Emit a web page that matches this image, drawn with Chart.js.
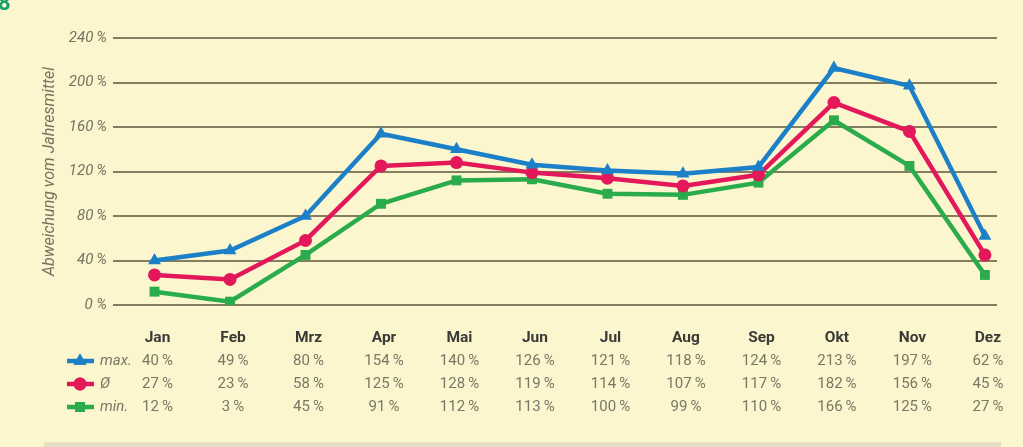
<!DOCTYPE html>
<html>
<head>
<meta charset="utf-8">
<script src="https://cdn.jsdelivr.net/npm/chart.js@4/dist/chart.umd.min.js"></script>
<style>
  html, body { margin: 0; padding: 0; background: #fcf6cf; }
  #wrap { width: 1023px; height: 447px; position: relative; }
</style>
</head>
<body>
<div id="wrap"><canvas id="chart" width="1023" height="447"></canvas></div>
<script>
const months = ["Jan", "Feb", "Mrz", "Apr", "Mai", "Jun", "Jul", "Aug", "Sep", "Okt", "Nov", "Dez"];
const maxValues = [40, 49, 80, 154, 140, 126, 121, 118, 124, 213, 197, 62];
const avgValues = [27, 23, 58, 125, 128, 119, 114, 107, 117, 182, 156, 45];
const minValues = [12, 3, 45, 91, 112, 113, 100, 99, 110, 166, 125, 27];
const yTicks = [0, 40, 80, 120, 160, 200, 240];

const BLUE = "#1b80c8";
const RED = "#e3185a";
const GREEN = "#2aab4c";
const GRID = "#857d60";
const FONT = "Roboto, 'Liberation Sans', sans-serif";

const toPoints = (values) => values.map((y, x) => ({ x, y }));

const series = [
  { label: "max.", values: maxValues, color: BLUE, style: "triangle", radius: 7.5 },
  { label: "Ø", values: avgValues, color: RED, style: "circle", radius: 6.5 },
  { label: "min.", values: minValues, color: GREEN, style: "rect", radius: 7 },
];

const pct = (v) => (v === 0 ? "0 %" : `${v}\u2009%`);

// month labels + value table + legend keys below the plot
const tablePlugin = {
  id: "table",
  afterDraw(chart) {
    const { ctx } = chart;
    const xScale = chart.scales.x;
    ctx.save();
    ctx.textAlign = "center";
    ctx.textBaseline = "middle";

    ctx.font = `bold 15.5px ${FONT}`;
    ctx.fillStyle = "#3a3a36";
    months.forEach((m, i) => {
      ctx.fillText(m, xScale.getPixelForValue(i) + 3, 338);
    });

    const rowsY = [361, 384, 407];
    ctx.font = `15px ${FONT}`;
    ctx.fillStyle = "#7a7764";
    series.forEach((s, r) => {
      s.values.forEach((v, i) => {
        ctx.fillText(pct(v), xScale.getPixelForValue(i) + 3, rowsY[r]);
      });
    });

    // legend keys
    series.forEach((s, r) => {
      const y = rowsY[r];
      ctx.strokeStyle = s.color;
      ctx.lineWidth = 4.5;
      ctx.beginPath();
      ctx.moveTo(67, y);
      ctx.lineTo(94, y);
      ctx.stroke();
      ctx.fillStyle = s.color;
      Chart.helpers.drawPoint(ctx, { pointStyle: s.style, radius: s.radius, borderWidth: 0 }, 80, y);
      ctx.fill();
      ctx.font = `italic 15px ${FONT}`;
      ctx.fillStyle = "#7a7764";
      ctx.textAlign = "left";
      ctx.fillText(s.label, 100, y);
      ctx.textAlign = "center";
    });

    // bottom band
    ctx.fillStyle = "#e6e1c3";
    ctx.fillRect(44, 442, 957, 5);

    // clipped heading glyph in the corner
    ctx.font = `bold 22px ${FONT}`;
    ctx.fillStyle = "#1aa06a";
    ctx.textAlign = "left";
    ctx.textBaseline = "alphabetic";
    ctx.fillText("8", -2, 10);
    ctx.restore();
  },
};

new Chart(document.getElementById("chart"), {
  type: "line",
  data: {
    datasets: series.map((s) => ({
      label: s.label,
      data: toPoints(s.values),
      borderColor: s.color,
      backgroundColor: s.color,
      borderWidth: 4.5,
      pointStyle: s.style,
      pointRadius: s.radius,
      pointBorderWidth: 0,
      tension: 0,
      fill: false,
    })),
  },
  options: {
    responsive: false,
    animation: false,
    devicePixelRatio: 1,
    layout: { padding: { top: 38, right: 26, bottom: 0, left: 0 } },
    plugins: { legend: { display: false }, tooltip: { enabled: false } },
    scales: {
      x: {
        type: "linear",
        min: -0.55,
        max: 11.16,
        grid: { display: false },
        border: { display: false },
        ticks: { display: false },
        afterFit: (scale) => { scale.height = 142; },
      },
      y: {
        min: 0,
        max: 240,
        afterBuildTicks: (scale) => { scale.ticks = yTicks.map((value) => ({ value })); },
        grid: { color: GRID, lineWidth: 2, drawTicks: false },
        border: { display: false },
        ticks: {
          padding: 6,
          color: "#75725f",
          font: { family: FONT, size: 15, style: "italic" },
          callback: (v) => pct(v),
        },
        title: {
          display: true,
          text: "Abweichung vom Jahresmittel",
          color: "#75725f",
          font: { family: FONT, size: 16, style: "italic" },
          padding: { top: 40, bottom: 4 },
        },
        afterFit: (scale) => { scale.width = 113; },
      },
    },
  },
  plugins: [tablePlugin],
});
</script>
</body>
</html>
